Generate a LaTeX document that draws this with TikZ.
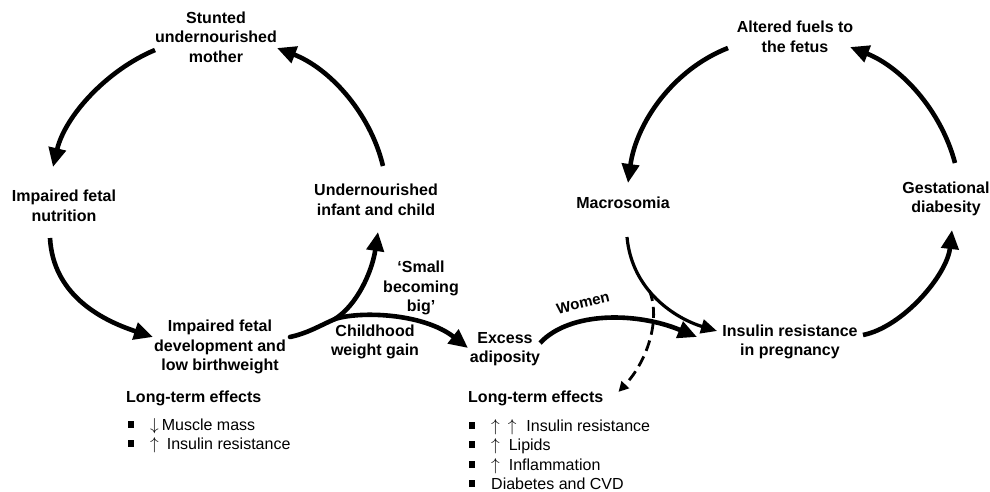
\documentclass[tikz,border=0pt]{standalone}
\usepackage{fontspec}
\setmainfont{Liberation Sans}
\usepackage{tikz}
\usetikzlibrary{arrows.meta}
\usetikzlibrary{calc}

\newcommand{\listsq}{\rule[2.5pt]{6pt}{7pt}\hspace{16pt}}

\begin{document}
\begin{tikzpicture}[x=1pt,y=-1pt,
		lab/.style={font=\fontsize{16}{19.5}\selectfont\bfseries, align=center, inner sep=1pt},
		heading/.style={font=\fontsize{16}{19.5}\selectfont\bfseries, anchor=base west, inner sep=0pt},
		listitem/.style={font=\fontsize{16}{19.5}\selectfont, anchor=base west, inner sep=0pt},
		bigline/.style={line width=4.6pt, line cap=round},
		bigarrow/.style={line width=4.6pt, -{Triangle[length=19pt,width=17pt]}},
		thinarrow/.style={line width=3.2pt, -{Triangle[length=16pt,width=14pt]}},
		dasharrow/.style={line width=2.8pt, dash pattern=on 11pt off 6pt, -{Triangle[length=10pt,width=10pt]}}]
			\useasboundingbox (0,0) rectangle (990,492);
			
			% undernutrition cycle
			\node[lab] (stunted) at (216,37) {Stunted\\undernourished\\mother};
			\node[lab] (nutrition) at (64,206) {Impaired fetal\\nutrition};
			\node[lab] (infant) at (376,200) {Undernourished\\infant and child};
			\node[lab] (lbw) at (220,347) {Impaired fetal\\development and\\low birthweight};
			\node[lab] (small) at (421,288) {‘Small\\becoming\\big’};
			\node[lab] (gain) at (375,342) {Childhood\\weight gain};
			\node[lab] (adipos) at (505,349) {Excess\\adiposity};
			\coordinate (fork) at ($(lbw)+(115,-28)$);
			
			% diabesity cycle
			\node[lab] (fuels) at (795,37) {Altered fuels to\\the fetus};
			\node[lab] (macro) at (623,203) {Macrosomia};
			\node[lab] (gdm) at (946,199) {Gestational\\diabesity};
			\node[lab] (irp) at (790,342) {Insulin resistance\\in pregnancy};
			\node[lab, rotate=13, font=\fontsize{15}{18}\selectfont\bfseries] (women) at (583,303) {Women};
			
			% long-term effects
			\node[heading] (ltleft) at (126,402) {Long-term effects};
			\node[listitem] (ll1) at (128,430.5) {\listsq $\downarrow$\hspace{3pt}Muscle mass};
			\node[listitem] (ll2) at (128,449.5) {\listsq $\uparrow$\hspace{8pt}Insulin resistance};
			
			\node[heading] (ltright) at (468,402) {Long-term effects};
			\node[listitem] (rl1) at (469,431.5) {\listsq $\uparrow$\hspace{8pt}$\uparrow$\hspace{10pt}Insulin resistance};
			\node[listitem] (rl2) at (469,450.5) {\listsq $\uparrow$\hspace{9pt}Lipids};
			\node[listitem] (rl3) at (469,470.5) {\listsq $\uparrow$\hspace{9pt}Inflammation};
			\node[listitem] (rl4) at (469,489.5) {\listsq Diabetes and CVD};
			
			\draw[bigarrow] ($(stunted)+(-61,13)$) .. controls +(-48,20) and +(12,-51) .. ($(nutrition)+(-11,-39)$);
			\draw[bigarrow] ($(infant)+(7,-34)$) .. controls +(-13,-54) and +(52,20) .. ($(stunted)+(61,11)$);
			\draw[bigarrow] ($(nutrition)+(-14,32)$) .. controls +(3,55) and +(-55,-18) .. ($(lbw)+(-67,-10)$);
			\draw[bigline] ($(lbw)+(70,-10)$) .. controls +(18,-4) and +(-18,8) .. (fork);
			\draw[bigarrow, line cap=round] (fork) .. controls +(22,-14) and +(-6,40) .. ($(infant)+(2,32)$);
			\draw[bigarrow, line cap=round] (fork) .. controls +(25,-8) and +(-45,-35) .. ($(adipos)+(-37,-1)$);
			
			\draw[bigarrow] ($(fuels)+(-67,11)$) .. controls +(-56,22) and +(8,-59) .. ($(macro)+(5,-20)$);
			\draw[bigarrow] ($(gdm)+(9,-36)$) .. controls +(-14,-53) and +(51,20) .. ($(fuels)+(55,10)$);
			\draw[thinarrow] ($(macro)+(4,34)$) .. controls +(5,55) and +(-40,-12) .. ($(irp)+(-73,-11)$) coordinate[pos=0.4] (split);
			\draw[bigarrow] ($(adipos)+(35,-6)$) .. controls +(30,-32) and +(-60,-25) .. ($(irp)+(-93,-5)$);
			\draw[bigarrow] ($(irp)+(73,-7)$) .. controls +(40,-8) and +(-5,45) .. ($(gdm)+(6,31)$);
			\draw[dasharrow] (split) .. controls +(12,30) and +(28,-30) .. ($(ltright.east)+(15,-6)$);
		\end{tikzpicture}
\end{document}
